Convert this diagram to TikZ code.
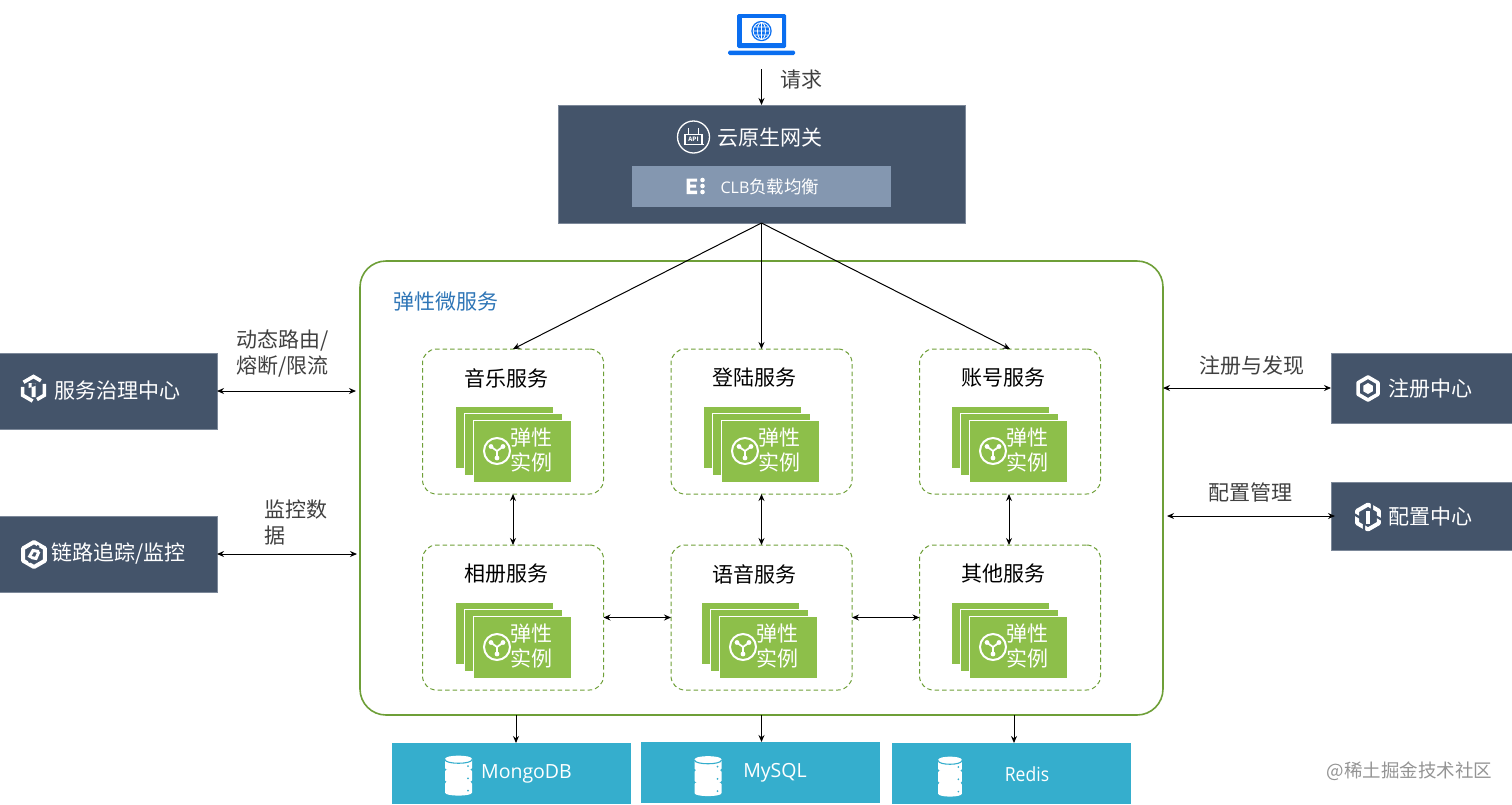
\documentclass[tikz,border=0pt]{standalone}
\usepackage{fontspec}
\setmainfont{Noto Sans CJK SC}
\newfontfamily\latinfont{Open Sans}
\usetikzlibrary{arrows.meta}
\definecolor{slate}{HTML}{44546A}
\definecolor{slateedge}{HTML}{7C8899}
\definecolor{slatelight}{HTML}{8497B0}
\definecolor{leaf}{HTML}{8DBF4A}
\definecolor{frame}{HTML}{6E9F38}
\definecolor{teal}{HTML}{35AECD}
\definecolor{lapblue}{HTML}{0A6EF0}
\definecolor{labelgrey}{HTML}{404040}
\definecolor{titleblue}{HTML}{2E75B6}
\tikzset{
  x=1pt,y=-1pt,
  plain/.style={inner sep=0pt,outer sep=0pt},
  panel/.style={plain,fill=slate,draw=slateedge,line width=.6pt},
  dbbox/.style={plain,fill=teal},
  txt/.style={plain,align=center,font=\fontsize{21}{26}\selectfont},
  whitetxt/.style={txt,text=white},
  lbl/.style={txt,text=labelgrey},
  svcbox/.style={plain,draw=frame,line width=1pt,dash pattern=on 4.5pt off 3pt,rounded corners=14pt,minimum width=181pt,minimum height=145pt},
  card/.style={plain,fill=leaf,draw=white,line width=.8pt,minimum width=98pt,minimum height=62pt},
  one/.style={-{Stealth[length=7pt,width=6pt]},line width=1pt,draw=black},
  two/.style={{Stealth[length=7pt,width=6pt]}-{Stealth[length=7pt,width=6pt]},line width=1pt,draw=black},
}
% service box: name, box centre x, box centre y, title, offset of the card stack
\newcommand{\svc}[5]{
  \node[svcbox] (#1) at (#2,#3) {};
  \node[txt] (#1t) at (#2-7,#3-43.5) {#4};
  \node[card] (#1a) at (#2+#5-18,#3+16) {};
  \node[card] (#1b) at (#2+#5-9,#3+23) {};
  \node[card] (#1c) at (#2+#5,#3+29.5) {};
  \node[whitetxt,font=\fontsize{21}{24.5}\selectfont] (#1i) at (#2+#5+9,#3+28.5) {弹性\\实例};
  \begin{scope}[shift={(#2+#5-25.5,#3+29.5)},white]
    \draw[line width=2pt] (0,0) circle (13);
    \draw[line width=1.8pt] (0,0) -- (0,6) (0,0) -- (-5.5,-4) (0,0) -- (5.5,-4);
    \fill (0,7) circle (2.4) (-6,-4.5) circle (2.4) (6,-4.5) circle (2.4);
  \end{scope}
}
% database icon
\newcommand{\dbicon}[3]{
  \begin{scope}[shift={(#1,#2)},xscale=#3]
    \foreach \yy in {0,12.3,24.6}{
      \fill[white] (-13.5,\yy-14) -- (-13.5,\yy-5) .. controls (-13.5,\yy-1) and (13.5,\yy-1) .. (13.5,\yy-5) -- (13.5,\yy-14) .. controls (13.5,\yy-18.5) and (-13.5,\yy-18.5) .. (-13.5,\yy-14) -- cycle;
      \fill[teal] (9.5,\yy-7) circle (1);
    }
    \draw[teal,line width=1.1pt] (-13.5,-13.5) .. controls (-13.5,-8.5) and (13.5,-8.5) .. (13.5,-13.5);
  \end{scope}
}
\newcommand{\hexpath}[1]{(90:#1) -- (30:#1) -- (-30:#1) -- (-90:#1) -- (-150:#1) -- (150:#1) -- cycle}
\begin{document}
\begin{tikzpicture}
\useasboundingbox (0,0) rectangle (1512,804);

% laptop
\node[plain,minimum width=67pt,minimum height=41pt] (laptop) at (761.5,34.5) {};
\fill[lapblue,rounded corners=1.5pt] (737,14) rectangle (786,48);
\fill[white] (741.5,18) rectangle (782,43);
\fill[lapblue,rounded corners=1.5pt] (728,50.5) rectangle (795,55);
\begin{scope}[shift={(761.5,31)}]
  \fill[lapblue] (0,0) circle (10.2);
  \draw[white,line width=.8pt] (0,0) circle (8.4) (-8.4,0) -- (8.4,0) (-7.4,-4) -- (7.4,-4) (-7.4,4) -- (7.4,4) (0,-8.4) -- (0,8.4);
  \draw[white,line width=.8pt] (0,0) ellipse (4 and 8.4);
\end{scope}
\node[lbl] (reqlabel) at (801,79.5) {请求};

% gateway
\node[panel,minimum width=407pt,minimum height=118pt] (gw) at (761.5,164) {};
\node[plain,fill=slatelight,minimum width=259pt,minimum height=41pt] (clb) at (761.5,186) {};
\node[whitetxt] (gwt) at (770,138) {云原生网关};
\node[whitetxt,font=\fontsize{17.5}{21}\selectfont] (clbt) at (770,186.5) {{\latinfont\fontsize{16}{21}\selectfont CLB}负载均衡};
\begin{scope}[shift={(693.5,137)},white]
  \draw[line width=1.3pt] (0,0) circle (16);
  \draw[line width=1.3pt] (-10,7.5) -- (10,7.5);
  \draw[line width=1.2pt] (-8.5,-2.5) rectangle (8.5,7.5) (-5,-9) -- (-5,-3) (5,-9) -- (5,-3);
  \node[plain,font=\bfseries\fontsize{6}{6}\selectfont,text=white] (apit) at (0,2.4) {API};
\end{scope}
\begin{scope}[white]
  \fill (686.5,178.5) rectangle (697,181.5) (686.5,184.5) rectangle (696,187.5) (686.5,190.5) rectangle (697,194) (686.5,178.5) rectangle (690,194);
  \fill (702.5,180) circle (2.3) (702.5,186) circle (2.3) (702.5,192) circle (2.3);
\end{scope}

% elastic microservices frame
\node[plain,draw=frame,line width=1.6pt,rounded corners=26pt,minimum width=803pt,minimum height=454pt] (ms) at (761.5,488) {};
\node[txt,text=titleblue] (mst) at (445.5,302) {弹性微服务};

\svc{music}{513}{421.5}{音乐服务}{9.5}
\svc{login}{761.5}{421.5}{登陆服务}{9}
\svc{account}{1010}{421.5}{账号服务}{8.5}
\svc{album}{513}{617.5}{相册服务}{9.5}
\svc{voice}{761.5}{617.5}{语音服务}{7}
\svc{other}{1010}{617.5}{其他服务}{8.5}

% side panels
\node[panel,minimum width=218pt,minimum height=76pt] (gov) at (108,391) {};
\node[panel,minimum width=218pt,minimum height=76pt] (trace) at (108,554) {};
\node[panel,minimum width=182pt,minimum height=70pt] (reg) at (1422,388) {};
\node[panel,minimum width=182pt,minimum height=68pt] (conf) at (1422,516) {};
\node[whitetxt] (govt) at (117.5,391) {服务治理中心};
\node[whitetxt] (tracet) at (118.5,553.5) {链路追踪/监控};
\node[whitetxt] (regt) at (1430.5,388.5) {注册中心};
\node[whitetxt] (conft) at (1430.5,516.5) {配置中心};

% side icons
\begin{scope}[shift={(33.5,389)},white]
  \draw[line width=3.6pt,dash pattern=on 20pt off 5pt,dash phase=-4pt] \hexpath{12.5};
  \fill (-1.8,-6) rectangle (2,8) (-5,-6) -- (2,-6) -- (2,-3) -- (-5,-1) -- cycle;
\end{scope}
\begin{scope}[shift={(34,554.5)},white]
  \draw[line width=4pt,line join=round] \hexpath{12.5};
  \draw[slate,line width=2.2pt] (-5,8) -- (4.5,-9);
  \draw[line width=3pt] (-5,3) -- (-1,-4) -- (5,-3) (5,-3) -- (2,4) -- (-3,3);
\end{scope}
\begin{scope}[shift={(1368,388.5)},white]
  \draw[line width=3.6pt,line join=round] \hexpath{11.5};
  \fill \hexpath{5.5};
\end{scope}
\begin{scope}[shift={(1368,517)},white]
  \draw[line width=4pt,line join=round] \hexpath{12.5};
  \draw[slate,line width=2.2pt] (-16,-4) -- (-4,3) -- (-4,14) (16,4) -- (4,-3) -- (4,-14);
  \fill (-1.8,-6) rectangle (1.8,7);
\end{scope}

% side labels
\node[lbl,align=left,anchor=west] (govl) at (236,353.5) {动态路由/\\熔断/限流};
\node[lbl,align=left,anchor=west] (tracel) at (264,522.5) {监控数\\据};
\node[lbl] (regl) at (1251.5,366) {注册与发现};
\node[lbl] (confl) at (1250,492) {配置管理};

% databases
\node[dbbox,minimum width=239pt,minimum height=61pt] (db1) at (511.5,773.5) {};
\node[dbbox,minimum width=239pt,minimum height=61pt] (db2) at (760.5,772.5) {};
\node[dbbox,minimum width=239pt,minimum height=61pt] (db3) at (1011.5,773.5) {};
\dbicon{458.5}{773}{1}
\dbicon{708}{773.5}{1}
\dbicon{950}{774}{.88}
\node[whitetxt,font=\latinfont\fontsize{19.5}{24}\selectfont] (db1t) at (526.5,774) {MongoDB};
\node[whitetxt,font=\latinfont\fontsize{19.5}{24}\selectfont] (db2t) at (775,773) {MySQL};
\node[whitetxt,font=\latinfont\fontsize{19.5}{24}\selectfont,xscale=.9] (db3t) at (1027,774) {Redis};

% connectors
\draw[one] (laptop.south |- 0,69) -- (gw.north);
\draw[one] (gw.south) -- (music.north);
\draw[one] (gw.south) -- (login.north);
\draw[one] (gw.south) -- (account.north);
\draw[two] (gov.east) -- ([xshift=-4pt]gov.east -| ms.west);
\draw[two] (trace.east) -- ([xshift=-3pt]trace.east -| ms.west);
\draw[two] (reg.west) -- (reg.west -| ms.east);
\draw[two] ([xshift=4pt]conf.west) -- ([xshift=4pt]conf.west -| ms.east);
\draw[two] (music.south) -- (album.north);
\draw[two] (login.south) -- (voice.north);
\draw[two] ([xshift=-1pt]account.south) -- ([xshift=-1pt]other.north);
\draw[two] (album.east) -- (voice.west);
\draw[two] (voice.east) -- (other.west);
\draw[one] ([xshift=4.5pt]db1.north |- ms.south) -- ([xshift=4.5pt]db1.north);
\draw[one] ([xshift=1pt]db2.north |- ms.south) -- ([xshift=1pt]db2.north);
\draw[one] ([xshift=2.5pt]db3.north |- ms.south) -- ([xshift=2.5pt]db3.north);

% watermark
\node[txt,text=black!42,font=\fontsize{18.5}{22}\selectfont] (mark) at (1409.5,771) {@稀土掘金技术社区};
\end{tikzpicture}
\end{document}
